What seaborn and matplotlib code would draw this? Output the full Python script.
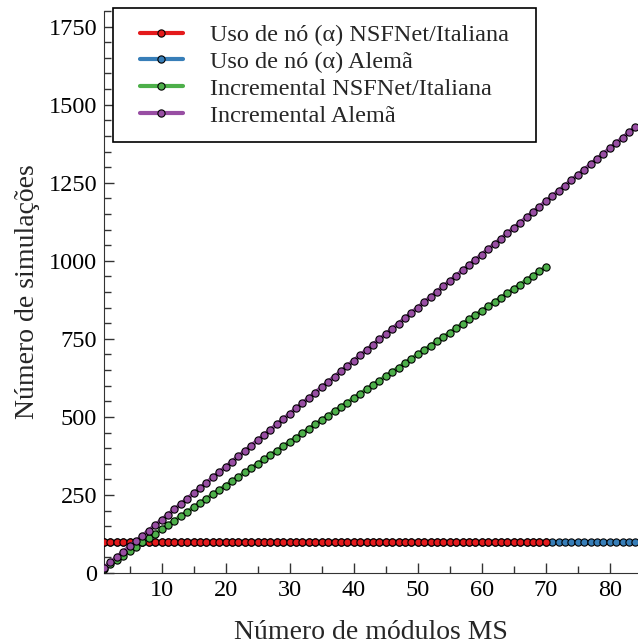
import matplotlib
matplotlib.use('Agg')
import matplotlib.pyplot as plt
from matplotlib.ticker import MultipleLocator
from matplotlib.path import Path
import seaborn as sns
import pandas as pd

sns.set_style('ticks')
plt.rcParams['font.family'] = ['Liberation Serif', 'DejaVu Serif']

# numero de modulos MS
x_nsf = list(range(1, 71))
x_alema = list(range(1, 85))

# uso de no (alpha): sempre 100 simulacoes
alpha_nsf = [100] * 70
alpha_alema = [100] * 84

# incremental: numero de simulacoes por numero de modulos
inc_nsf = [14, 28, 42, 56, 70, 84, 98, 112, 126, 140,
           154, 168, 182, 196, 210, 224, 238, 252, 266, 280,
           294, 308, 322, 336, 350, 364, 378, 392, 406, 420,
           434, 448, 462, 476, 490, 504, 518, 532, 546, 560,
           574, 588, 602, 616, 630, 644, 658, 672, 686, 700,
           714, 728, 742, 756, 770, 784, 798, 812, 826, 840,
           854, 868, 882, 896, 910, 924, 938, 952, 966, 980]
inc_alema = [17, 34, 51, 68, 85, 102, 119, 136, 153, 170,
             187, 204, 221, 238, 255, 272, 289, 306, 323, 340,
             357, 374, 391, 408, 425, 442, 459, 476, 493, 510,
             527, 544, 561, 578, 595, 612, 629, 646, 663, 680,
             697, 714, 731, 748, 765, 782, 799, 816, 833, 850,
             867, 884, 901, 918, 935, 952, 969, 986, 1003, 1020,
             1037, 1054, 1071, 1088, 1105, 1122, 1139, 1156, 1173, 1190,
             1207, 1224, 1241, 1258, 1275, 1292, 1309, 1326, 1343, 1360,
             1377, 1394, 1411, 1428]

labels = ['Uso de nó (α) NSFNet/Italiana', 'Uso de nó (α) Alemã',
          'Incremental NSFNet/Italiana', 'Incremental Alemã']
colors = ['#e41a1c', '#377eb8', '#4daf4a', '#984ea3']

series = [(x_nsf, alpha_nsf), (x_alema, alpha_alema),
          (x_nsf, inc_nsf), (x_alema, inc_alema)]
zorders = [4, 3, 5, 6]


def wide_box(x0, y0, width, height, mutation_size):
    # caixa da legenda com mais folga nos lados
    p = 0.45 * mutation_size
    return Path([(x0 - p, y0), (x0 + width + p, y0), (x0 + width + p, y0 + height),
                 (x0 - p, y0 + height), (x0 - p, y0)], closed=True)


fig = plt.figure(figsize=(6.38, 6.44), dpi=100)
ax = fig.add_axes([0.163, 0.1102, 0.837, 0.8727])

for (xs, ys), lab, c, z in zip(series, labels, colors, zorders):
    df = pd.DataFrame({'x': xs, 'y': ys})
    sns.lineplot(data=df, x='x', y='y', ax=ax, color=c, label=lab,
                 linewidth=3, marker='o', markersize=5.2,
                 markeredgecolor='black', markeredgewidth=0.8, zorder=z)

ax.set_xlim(1, 84.4)
ax.set_ylim(0, 1800)
ax.xaxis.set_major_locator(MultipleLocator(10))
ax.xaxis.set_minor_locator(MultipleLocator(5))
ax.yaxis.set_major_locator(MultipleLocator(250))
ax.yaxis.set_minor_locator(MultipleLocator(50))
ax.tick_params(which='both', direction='in', labelsize=17.5, color='#333333',
               labelcolor='black', pad=5)
ax.tick_params(which='major', length=7, width=1)
ax.tick_params(which='minor', length=5, width=1)
sns.despine(ax=ax)
for s in ['left', 'bottom']:
    ax.spines[s].set_color('#333333')

ax.set_xlabel('Número de módulos MS', fontsize=20, labelpad=14)
ax.set_ylabel('Número de simulações', fontsize=20, labelpad=6)

leg = ax.legend(loc='upper left', bbox_to_anchor=(0.037, 1.005), borderaxespad=0,
                fontsize=17.5, frameon=True, fancybox=False, edgecolor='black',
                framealpha=1, borderpad=0.65, handlelength=1.8, handletextpad=1.1,
                labelspacing=0.2)
leg.get_frame().set_linewidth(1.2)
leg.get_frame().set_boxstyle(wide_box)

fig.savefig('out.png', dpi=100)
